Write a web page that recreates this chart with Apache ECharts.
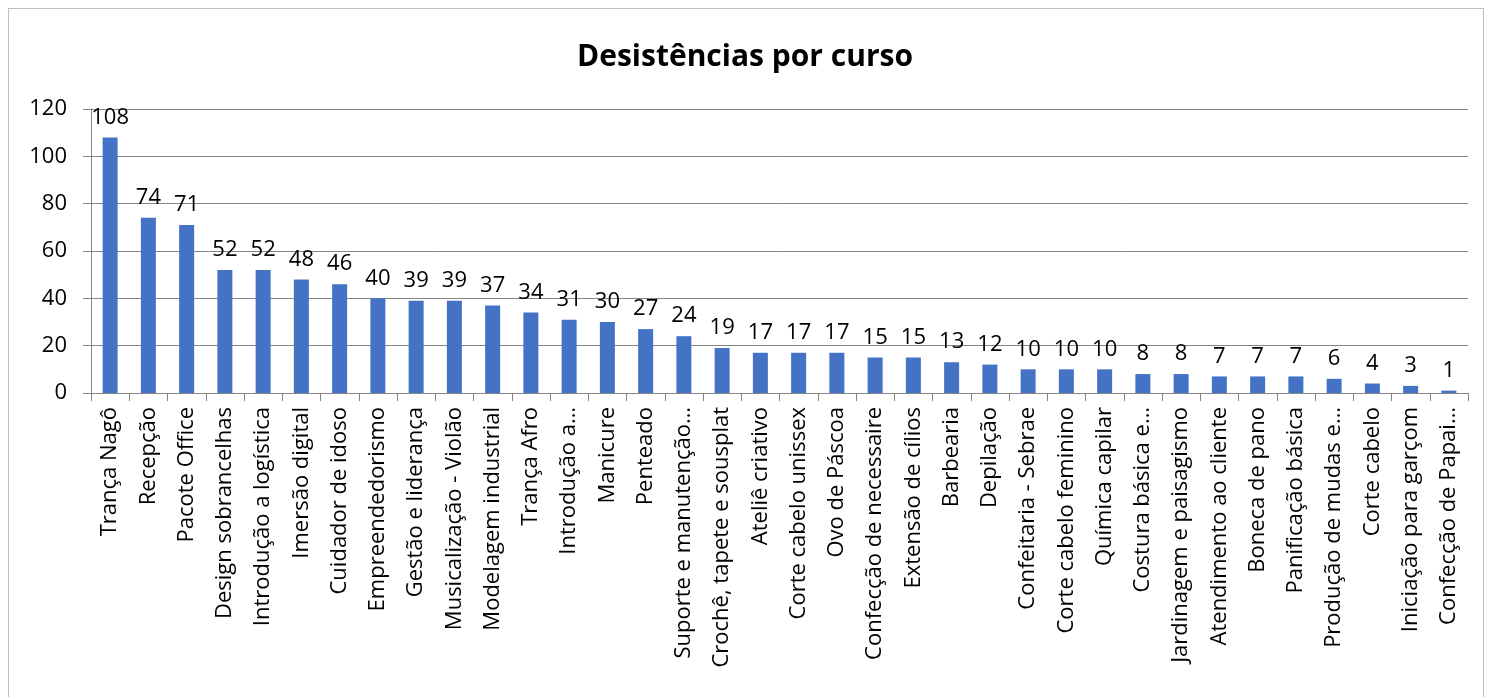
<!DOCTYPE html>
<html><head><meta charset="utf-8">
<script src="https://cdn.jsdelivr.net/npm/echarts@6/dist/echarts.min.js"></script>
<style>html,body{margin:0;padding:0;background:#fff}#c{width:1490px;height:697px}
#frame{position:absolute;left:8px;top:8px;width:1476px;height:700px;border:1px solid #bfbfbf;box-sizing:border-box;pointer-events:none}</style>
</head><body><div id="c"></div><div id="frame"></div>
<script>
const categories = ["Trança Nagô","Recepção","Pacote Office","Design sobrancelhas","Introdução a logística","Imersão digital","Cuidador de idoso","Empreendedorismo","Gestão e liderança","Musicalização - Violão","Modelagem industrial","Trança Afro","Introdução a…","Manicure","Penteado","Suporte e manutenção…","Crochê, tapete e sousplat","Ateliê criativo","Corte cabelo unissex","Ovo de Páscoa","Confecção de necessaire","Extensão de cílios","Barbearia","Depilação","Confeitaria - Sebrae","Corte cabelo feminino","Química capilar","Costura básica e…","Jardinagem e paisagismo","Atendimento ao cliente","Boneca de pano","Panificação básica","Produção de mudas e…","Corte cabelo","Iniciação para garçom","Confecção de Papai…"];
const values = [108,74,71,52,52,48,46,40,39,39,37,34,31,30,27,24,19,17,17,17,15,15,13,12,10,10,10,8,8,7,7,7,6,4,3,1];
const title = "Desistências por curso";
const font = "'Open Sans', 'Noto Sans', sans-serif";
const chart = echarts.init(document.getElementById('c'), null, {renderer:'canvas'});
chart.setOption({
  animation:false,
  backgroundColor:'#fff',
  title:{text:title,left:'center',top:37,textStyle:{fontFamily:font,fontSize:30,fontWeight:'bold',color:'#000'}},
  grid:{left:91,right:22,top:109,bottom:304,containLabel:false},
  xAxis:{type:'category',data:categories,
    axisLine:{lineStyle:{color:'#868686'}},
    axisTick:{show:true,alignWithLabel:false,length:8,lineStyle:{color:'#868686'}},
    axisLabel:{rotate:90,interval:0,fontFamily:font,fontSize:22,color:'#000',margin:14}},
  yAxis:{type:'value',min:0,max:120,interval:20,
    axisLine:{show:true,lineStyle:{color:'#868686'}},
    axisTick:{show:true,length:8,lineStyle:{color:'#868686'}},
    splitLine:{lineStyle:{color:'#868686'}},
    axisLabel:{fontFamily:font,fontSize:22,color:'#000',margin:24}},
  series:[{type:'bar',data:values,barWidth:15,
    itemStyle:{color:'#4472c4'},
    label:{show:true,position:'top',distance:9,fontFamily:font,fontSize:22,color:'#000'}}]
});
</script></body></html>
